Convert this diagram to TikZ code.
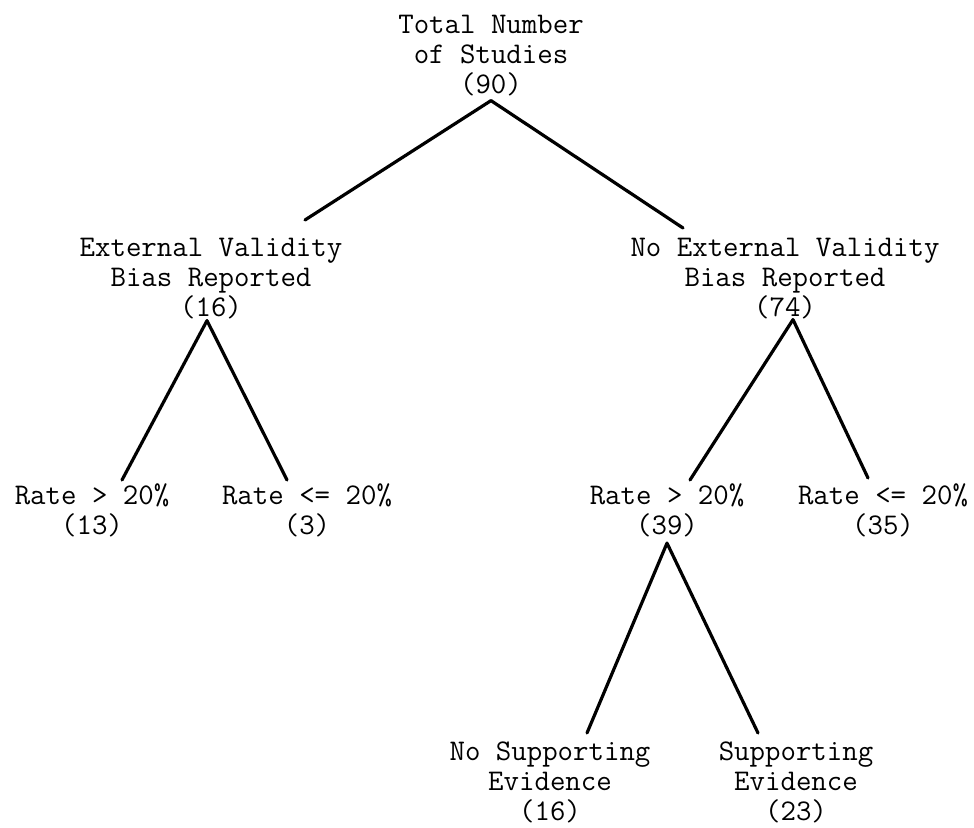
\documentclass[tikz,border=0pt]{standalone}
\usetikzlibrary{positioning}
\tikzset{
  font=\fontsize{15}{15}\selectfont\ttfamily,
  count/.style={
    align=center,
    inner sep=0pt,
    anchor=north
  },
  branch/.style={draw=black,line width=1.6pt,line cap=round}
}

\begin{document}
\begin{tikzpicture}[x=0.5pt,y=-0.5pt]

  \useasboundingbox (0,0) rectangle (974,828);

  \node[count] at (491,15) (total) {Total Number\\of Studies\\(90)};

  \node[count] at (211,238) (ext) {External Validity\\Bias Reported\\(16)};
  \node[count] at (785,238) (noext) {No External Validity\\Bias Reported\\(74)};

  \node[count] at (92,483) (extHigh) {Rate > 20\%\\(13)};
  \node[count] at (307,483) (extLow) {Rate <= 20\%\\(3)};
  \node[count] at (667,483) (noextHigh) {Rate > 20\%\\(39)};
  \node[count] at (883,483) (noextLow) {Rate <= 20\%\\(35)};

  \node[count] at (550,741) (noSupport) {No Supporting\\Evidence\\(16)};
  \node[count] at (796,741) (support) {Supporting\\Evidence\\(23)};

  \draw[branch] ([yshift=-2pt]total.south) -- ([xshift=47pt,yshift=9pt]ext.north);
  \draw[branch] ([yshift=-2pt]total.south) -- ([xshift=-51pt,yshift=5pt]noext.north);

  \draw[branch] ([xshift=-2pt,yshift=-0.5pt]ext.south) -- ([xshift=15pt,yshift=1.5pt]extHigh.north);
  \draw[branch] ([xshift=-2pt,yshift=-0.5pt]ext.south) -- ([xshift=-10pt,yshift=1.5pt]extLow.north);

  \draw[branch] ([xshift=4pt]noext.south) -- ([xshift=11.5pt,yshift=1.5pt]noextHigh.north);
  \draw[branch] ([xshift=4pt]noext.south) -- ([xshift=-7.5pt,yshift=2.5pt]noextLow.north);

  \draw[branch] ([yshift=-3pt]noextHigh.south) -- ([xshift=18.5pt,yshift=4pt]noSupport.north);
  \draw[branch] ([yshift=-3pt]noextHigh.south) -- ([xshift=-19pt,yshift=4pt]support.north);

\end{tikzpicture}
\end{document}
